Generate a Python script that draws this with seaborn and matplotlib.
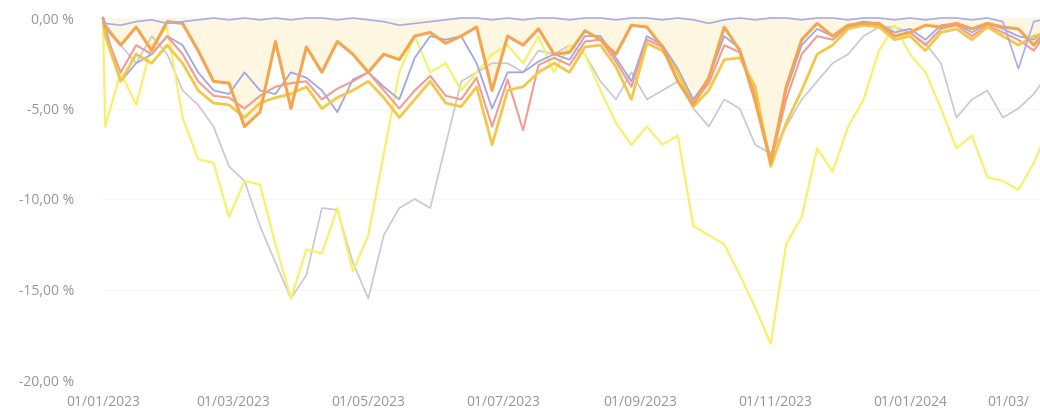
import matplotlib
matplotlib.use("Agg")
import matplotlib.pyplot as plt
import seaborn as sns
import pandas as pd

# ---------------- data (drawdown, %) ----------------
dates = pd.to_datetime(["2023-01-01"]).append(pd.date_range("2023-01-02", periods=62, freq="7D"))

blue_top = [0.0,
    -0.3, -0.4, -0.2, -0.1, -0.3, -0.2, -0.1, 0.0, -0.1, 0.0,
    -0.1, 0.0, -0.1, 0.0, 0.0, -0.1, 0.0, -0.1, -0.2, -0.4,
    -0.3, -0.2, -0.1, 0.0, 0.0, -0.1, 0.0, -0.1, 0.0, 0.0,
    -0.1, 0.0, 0.0, -0.1, 0.0, 0.0, -0.1, 0.0, -0.1, -0.3,
    -0.1, 0.0, -0.1, 0.0, 0.0, -0.1, 0.0, 0.0, -0.1, 0.0,
    0.0, -0.1, 0.0, -0.1, 0.0, 0.0, -0.1, 0.0, -0.2, -2.8,
    -0.2, 0.0]

blue_mid = [0.0,
    -0.5, -3.5, -2.5, -2.0, -1.0, -1.5, -3.0, -4.0, -4.2, -3.0,
    -4.0, -4.2, -3.0, -3.3, -4.0, -5.2, -3.4, -3.0, -3.8, -4.5,
    -2.2, -1.0, -1.2, -1.0, -2.5, -5.0, -3.0, -3.0, -2.4, -2.0,
    -2.3, -1.0, -1.0, -2.2, -3.5, -1.0, -1.5, -2.8, -4.5, -3.3,
    -1.0, -1.7, -4.3, -7.8, -4.0, -1.5, -0.6, -1.0, -0.4, -0.2,
    -0.3, -0.8, -0.6, -1.2, -0.4, -0.3, -0.8, -0.3, -0.6, -1.0,
    -1.2, -0.4]

pink = [0.0,
    -0.8, -3.0, -1.5, -2.0, -1.0, -2.0, -3.5, -4.3, -4.4, -5.0,
    -4.3, -3.8, -3.6, -3.5, -4.5, -3.9, -3.5, -3.0, -4.0, -5.0,
    -4.0, -3.2, -4.3, -4.5, -3.3, -6.0, -3.4, -6.2, -2.6, -2.2,
    -2.6, -1.3, -1.2, -2.4, -3.8, -1.2, -1.6, -3.0, -4.7, -3.6,
    -1.5, -1.9, -4.2, -8.0, -4.5, -2.0, -1.0, -1.2, -0.5, -0.3,
    -0.4, -1.0, -0.8, -1.5, -0.6, -0.4, -1.0, -0.4, -0.8, -1.2,
    -1.8, -0.6]

gold = [0.0,
    -1.0, -3.5, -2.0, -2.5, -1.5, -2.5, -4.0, -4.7, -4.8, -5.5,
    -4.7, -4.4, -4.2, -3.8, -5.0, -4.4, -4.0, -3.5, -4.4, -5.5,
    -4.5, -3.5, -4.7, -4.9, -3.8, -7.0, -4.0, -3.8, -3.0, -2.5,
    -3.0, -1.6, -1.5, -2.7, -4.5, -1.4, -1.8, -3.0, -4.9, -4.0,
    -2.3, -2.2, -3.8, -8.2, -5.8, -4.0, -2.0, -1.5, -0.6, -0.4,
    -0.5, -1.2, -1.0, -1.8, -0.8, -0.6, -1.2, -0.5, -1.0, -1.5,
    -1.0, -0.8]

orange = [0.0,
    -0.5, -1.5, -0.5, -1.8, -0.2, -0.3, -1.8, -3.5, -3.6, -6.0,
    -5.2, -1.3, -5.0, -1.6, -3.0, -1.3, -2.0, -3.0, -2.0, -2.3,
    -1.0, -0.8, -1.4, -1.0, -0.5, -4.0, -1.0, -1.5, -0.6, -2.0,
    -1.9, -0.7, -1.2, -2.0, -0.4, -0.5, -1.6, -3.5, -4.8, -3.3,
    -0.5, -1.8, -4.6, -8.0, -3.8, -1.2, -0.3, -1.0, -0.4, -0.3,
    -0.3, -1.0, -0.8, -0.4, -0.5, -0.3, -0.6, -0.3, -0.5, -0.6,
    -1.5, -0.5]

light_yellow = [0.0,
    -6.0, -3.0, -4.8, -1.5, -0.5, -5.5, -7.8, -8.0, -11.0, -9.0,
    -9.2, -12.5, -15.5, -12.8, -13.0, -10.5, -14.0, -12.0, -7.5, -3.0,
    -1.0, -3.0, -2.5, -4.0, -3.0, -2.0, -1.5, -2.5, -1.0, -3.0,
    -1.5, -2.0, -4.0, -5.8, -7.0, -6.0, -7.0, -6.5, -11.5, -12.0,
    -12.5, -14.2, -16.0, -18.0, -12.5, -11.0, -7.2, -8.5, -6.0, -4.5,
    -1.8, -0.4, -2.0, -3.0, -5.0, -7.2, -6.5, -8.8, -9.0, -9.5,
    -8.0, -6.0]

grey = [0.0,
    -0.3, -1.5, -2.5, -1.0, -2.0, -4.0, -4.8, -6.0, -8.2, -9.0,
    -11.5, -13.5, -15.5, -14.2, -10.5, -10.6, -13.5, -15.5, -12.0, -10.5,
    -10.0, -10.5, -7.0, -3.5, -3.0, -2.5, -2.5, -3.0, -1.8, -2.0,
    -1.5, -2.0, -3.5, -4.5, -3.0, -4.5, -4.0, -3.5, -5.0, -6.0,
    -4.5, -5.0, -7.0, -7.5, -6.0, -4.5, -3.5, -2.5, -2.0, -1.0,
    -0.5, -0.5, -0.8, -1.4, -2.5, -5.5, -4.5, -4.0, -5.5, -5.0,
    -4.2, -3.0]

y_ticks = [0, -5, -10, -15, -20]
y_tick_labels = ["0,00 %", "-5,00 %", "-10,00 %", "-15,00 %", "-20,00 %"]
x_ticks = ["2023-01-01", "2023-03-01", "2023-05-01", "2023-07-01", "2023-09-01", "2023-11-01", "2024-01-01"]
x_tick_labels = ["01/01/2023", "01/03/2023", "01/05/2023", "01/07/2023", "01/09/2023", "01/11/2023", "01/01/2024"]
last_label = "01/03/"

df = pd.DataFrame({
    "date": dates, "blue_top": blue_top, "blue_mid": blue_mid, "pink": pink,
    "gold": gold, "orange": orange, "light_yellow": light_yellow, "grey": grey,
})

# ---------------- plot ----------------
sns.set_theme(style="white")
plt.rcParams["font.family"] = ["Open Sans", "DejaVu Sans"]

W, H = 1040, 413
fig = plt.figure(figsize=(W / 100, H / 100), dpi=100)
ax = fig.add_axes([103 / W, 33 / H, 937 / W, 362 / H])

ax.fill_between(df["date"], df["orange"], 0, color="#fdf7e2", lw=0, zorder=1)

styles = [
    ("grey", "#c9c7d2", 1.2, 2),
    ("light_yellow", "#f8f06a", 1.6, 3),
    ("blue_mid", "#9ea8e6", 1.3, 4),
    ("pink", "#f49c92", 1.5, 5),
    ("gold", "#f2c846", 2.0, 6),
    ("orange", "#f4a54e", 2.2, 7),
    ("blue_top", "#a8abf1", 1.2, 8),
]
for name, color, lw, z in styles:
    sns.lineplot(data=df, x="date", y=name, ax=ax, color=color, linewidth=lw, zorder=z)

for ln in ax.lines:
    ln.set_clip_on(False)

start = pd.Timestamp("2023-01-01")
ax.set_xlim(start, start + pd.Timedelta(days=423.8))
ax.set_ylim(-20, 0)
ax.set_xlabel("")
ax.set_ylabel("")
sns.despine(ax=ax, left=True, bottom=True)

ax.set_yticks(y_ticks)
ax.set_yticklabels(y_tick_labels)
ax.set_xticks(pd.to_datetime(x_ticks))
ax.set_xticklabels(x_tick_labels)
ax.tick_params(axis="both", length=0, colors="#969696", labelsize=10)
ax.tick_params(axis="y", pad=21)
ax.tick_params(axis="x", pad=11)
ax.grid(axis="y", color="#f6f6f6", lw=0.8)
ax.grid(axis="x", visible=False)

fig.text(987 / W, (H - 403) / H, last_label, ha="left", va="center",
         fontsize=10, color="#969696")

fig.savefig("out.png", dpi=100)
